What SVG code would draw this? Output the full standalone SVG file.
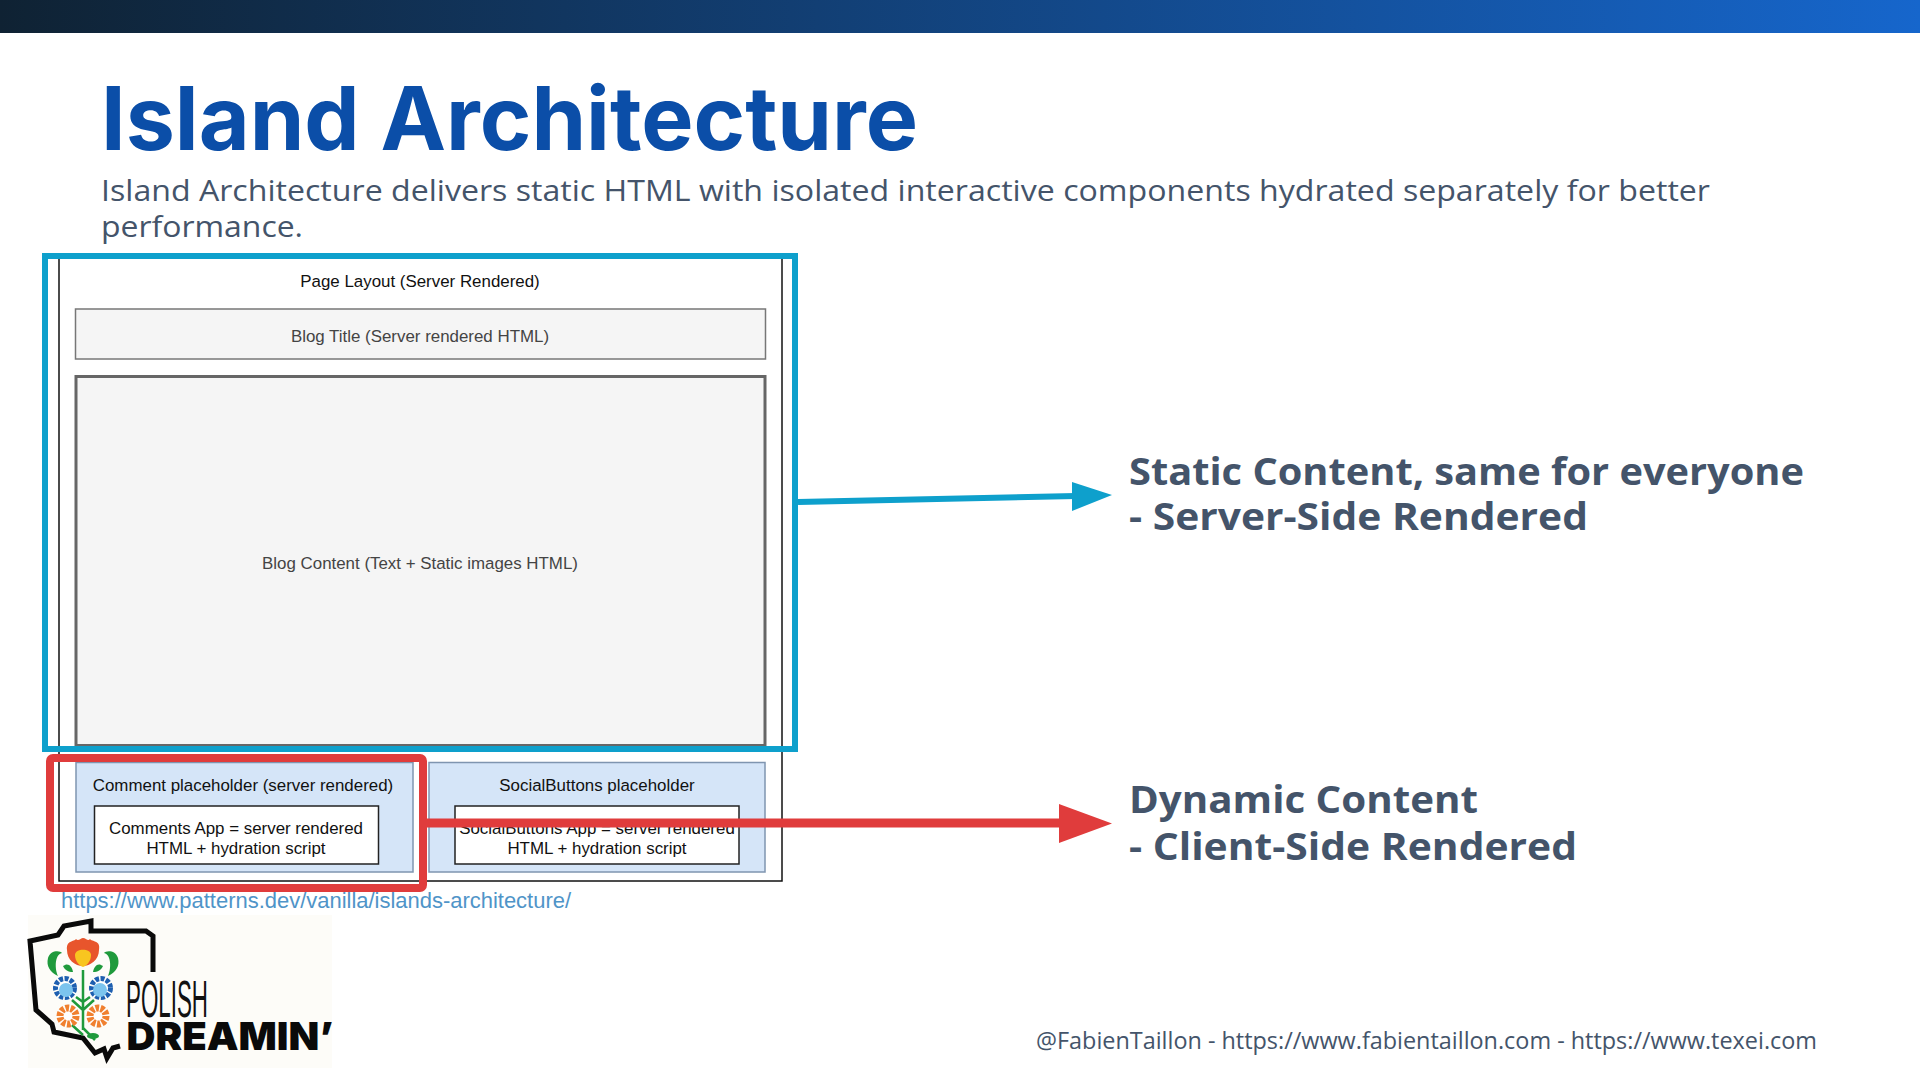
<svg xmlns="http://www.w3.org/2000/svg" width="1920" height="1080" viewBox="0 0 1920 1080">
<defs>
<linearGradient id="bar" x1="0" x2="1" y1="0" y2="0"><stop offset="0" stop-color="#0f2233"/><stop offset="1" stop-color="#1666cc"/></linearGradient>
<style>
.d{font-family:"Liberation Sans",Arial,sans-serif;font-size:16.9px;text-anchor:middle;fill:#111}
.g{fill:#444}
.m{font-family:"Open Sans","DejaVu Sans",sans-serif;fill:#44546a}
.h{font-weight:700;font-size:38px}
.ph{fill:#d5e5f8;stroke:#7f95b0;stroke-width:1.5}
.ap{fill:#fff;stroke:#222;stroke-width:1.5}
.ol{fill:none;stroke:#0a0a0a;stroke-width:5;stroke-linejoin:miter}
.gr{fill:#1f9a3c}.lb{fill:#7cc4ee}.st{stroke:#1f9a3c;stroke-width:2.5;fill:none}
.bl{fill:#fff;stroke:#1e5fb0;stroke-width:5;stroke-dasharray:4 1.500}
.or{fill:#fff;stroke:#f08030;stroke-width:7;stroke-dasharray:3.500 1.500}
</style>
</defs>
<rect width="1920" height="1080" fill="#fff"/>
<rect width="1920" height="33" fill="url(#bar)"/>
<g id="title">
<text x="101" y="150" font-family="Inter,sans-serif" font-weight="700" font-size="88" fill="#0b4ea8" textLength="817" lengthAdjust="spacingAndGlyphs">Island Architecture</text>
<text class="m" x="101" y="201" font-size="30" textLength="1609" lengthAdjust="spacingAndGlyphs">Island Architecture delivers static HTML with isolated interactive components hydrated separately for better</text>
<text class="m" x="101" y="237" font-size="30" textLength="202" lengthAdjust="spacingAndGlyphs">performance.</text>
</g>
<g id="page-layout">
<rect x="59" y="256" width="723" height="625" fill="#fff" stroke="#111" stroke-width="1.5"/>
<text class="d" x="420" y="286.500">Page Layout (Server Rendered)</text>
</g>
<g id="blog-title">
<rect x="75.500" y="309" width="690" height="50" fill="#f5f5f5" stroke="#777" stroke-width="1.5"/>
<text class="d g" x="420" y="342">Blog Title (Server rendered HTML)</text>
</g>
<g id="blog-content">
<rect x="76" y="376.500" width="689" height="369" fill="#f5f5f5" stroke="#666" stroke-width="3"/>
<text class="d g" x="420" y="569">Blog Content (Text + Static images HTML)</text>
</g>
<g id="comment-placeholder">
<rect class="ph" x="76" y="762.500" width="337" height="109.500"/>
<text class="d" x="243" y="791">Comment placeholder (server rendered)</text>
<rect class="ap" x="94.500" y="806" width="284" height="58"/>
<text class="d" x="236" y="834">Comments App = server rendered</text>
<text class="d" x="236" y="854">HTML + hydration script</text>
</g>
<g id="social-placeholder">
<rect class="ph" x="429" y="762.500" width="336" height="109.500"/>
<text class="d" x="597" y="791">SocialButtons placeholder</text>
<rect class="ap" x="455" y="806" width="284" height="58"/>
<text class="d" x="597" y="834">SocialButtons App = server rendered</text>
<text class="d" x="597" y="854">HTML + hydration script</text>
</g>
<g id="static-highlight"><rect x="45" y="256" width="750" height="493" fill="none" stroke="#0ea0cc" stroke-width="6"/></g>
<g id="dynamic-highlight"><rect x="50" y="758" width="373" height="130" rx="3" fill="none" stroke="#e03c3c" stroke-width="8"/></g>
<g id="connectors">
<line x1="798" y1="502" x2="1076" y2="496" stroke="#0ea0cc" stroke-width="6"/>
<polygon points="1072,482 1112,495 1072,511" fill="#0ea0cc"/>
<line x1="424" y1="823" x2="1064" y2="823" stroke="#e03c3c" stroke-width="9"/>
<polygon points="1059,804 1112,823.500 1059,843" fill="#e03c3c"/>
</g>
<g id="static-label">
<text class="m h" x="1129" y="485" textLength="675" lengthAdjust="spacingAndGlyphs">Static Content, same for everyone</text>
<text class="m h" x="1129" y="530" textLength="459" lengthAdjust="spacingAndGlyphs">- Server-Side Rendered</text>
</g>
<g id="dynamic-label">
<text class="m h" x="1129" y="813" textLength="349" lengthAdjust="spacingAndGlyphs">Dynamic Content</text>
<text class="m h" x="1129" y="860" textLength="448" lengthAdjust="spacingAndGlyphs">- Client-Side Rendered</text>
</g>
<text id="source-link" x="61" y="908" font-family="Liberation Sans,Arial,sans-serif" font-size="22" fill="#4f94c8" textLength="510" lengthAdjust="spacingAndGlyphs">https://www.patterns.dev/vanilla/islands-architecture/</text>
<text id="footer" class="m" x="1036" y="1048.500" font-size="23" fill="#333" textLength="781" lengthAdjust="spacingAndGlyphs">@FabienTaillon - https://www.fabientaillon.com - https://www.texei.com</text>
<g id="logo">
<rect x="28" y="915" width="304" height="153" fill="#fdfcf8"/>
<path class="ol" d="M153,972V936L146,931H91V921L64,926L58,935L30,941L36,1010L52,1024L54,1032L83,1038L95,1053L104,1049L107,1058L113,1048L120,1046"/>
<path class="st" d="M83,970V1030M83,1010L72,1000M83,1010L94,1000M83,1035L72,1025M83,1028L95,1040M76,997L83,1002L90,997"/>
<path d="M67,950C66,940 74,942 76,939C78,942 81,938 83,938C86,938 88,942 90,939C92,942 101,940 99,950C99,960 90,966 83,966C75,966 67,960 67,950Z" fill="#e8552c"/>
<path d="M75,955C75,948 91,948 91,955C91,962 86,966 83,967C80,966 75,962 75,955Z" fill="#f8c520"/>
<path class="gr" d="M48,958C50,950 60,950 62,953C54,955 55,970 58,976C50,972 46,966 48,958Z"/>
<path class="gr" d="M118,958C116,950 106,950 104,953C112,955 111,970 108,976C116,972 120,966 118,958Z"/>
<path class="gr" d="M63,966C68,962 72,966 73,972C68,972 65,970 63,966Z"/>
<path class="gr" d="M103,966C98,962 94,966 93,972C98,972 101,970 103,966Z"/>
<circle cx="65" cy="988" r="9.500" class="bl"/><circle cx="66" cy="990" r="7" class="lb"/>
<circle cx="101" cy="988" r="9.500" class="bl"/><circle cx="100" cy="990" r="7" class="lb"/>
<circle cx="68" cy="1016" r="8" class="or"/>
<circle cx="98" cy="1016" r="8" class="or"/>
<ellipse cx="93" cy="1036" rx="6" ry="3" class="gr"/>
<text x="126" y="1017" font-family="Liberation Sans,sans-serif" font-size="51" fill="#111" textLength="82" lengthAdjust="spacingAndGlyphs">POLISH</text>
<text x="126.500" y="1050" font-family="Inter,sans-serif" font-weight="900" font-size="39" fill="#0a0a0a" textLength="207" lengthAdjust="spacingAndGlyphs">DREAMIN’</text>
</g>
</svg>
